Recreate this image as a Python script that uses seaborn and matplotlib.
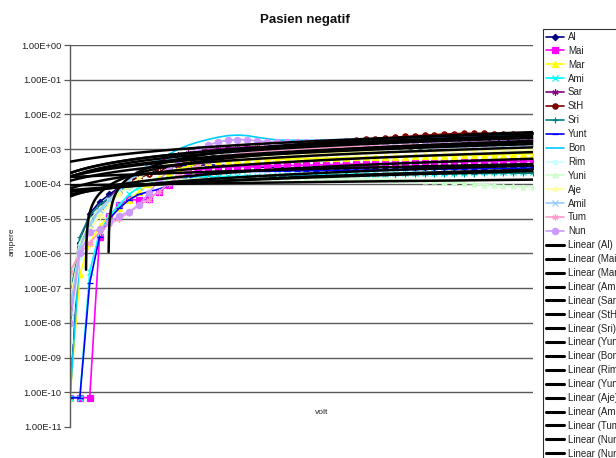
import numpy as np
import matplotlib
matplotlib.use("Agg")
import matplotlib.pyplot as plt
import seaborn as sns
from matplotlib.lines import Line2D
from matplotlib.ticker import FixedLocator, FuncFormatter, NullLocator

# measurement points along the voltage sweep
volt_index = np.arange(48)

patients = ["Al", "Mai", "Mar", "Ami", "Sar", "StH", "Sri", "Yunt",
            "Bon", "Rim", "Yuni", "Aje", "Amil", "Tum", "Nun"]

# current (ampere) per patient
al = [7e-11, 2e-6, 1.4e-5, 3e-5, 5e-5, 8e-5, 1.2e-4, 1.6e-4, 2.1e-4, 2.6e-4, 3.0e-4, 3.3e-4,
      3.4e-4, 3.5e-4, 3.5e-4, 3.5e-4, 3.4e-4, 3.3e-4, 3.2e-4, 3.1e-4, 3.0e-4, 3.0e-4, 2.9e-4, 2.9e-4,
      2.9e-4, 2.9e-4, 2.9e-4, 2.9e-4, 2.9e-4, 3.0e-4, 3.0e-4, 3.0e-4, 3.0e-4, 3.0e-4, 3.0e-4, 3.0e-4,
      3.0e-4, 3.1e-4, 3.1e-4, 3.1e-4, 3.1e-4, 3.1e-4, 3.1e-4, 3.2e-4, 3.2e-4, 3.2e-4, 3.2e-4, 3.2e-4]
mai = [7e-11, 7e-11, 7e-11, 3e-6, 1.2e-5, 2.5e-5, 3.6e-5, 3.4e-5, 3.6e-5, 6e-5, 9e-5, 1.4e-4,
       2.0e-4, 2.5e-4, 2.8e-4, 3.0e-4, 3.1e-4, 3.1e-4, 3.2e-4, 3.2e-4, 3.3e-4, 3.3e-4, 3.4e-4, 3.4e-4,
       3.5e-4, 3.5e-4, 3.6e-4, 3.6e-4, 3.7e-4, 3.7e-4, 3.8e-4, 3.8e-4, 3.9e-4, 3.9e-4, 4.0e-4, 4.0e-4,
       4.1e-4, 4.1e-4, 4.2e-4, 4.2e-4, 4.3e-4, 4.3e-4, 4.4e-4, 4.4e-4, 4.5e-4, 4.5e-4, 4.5e-4, 4.6e-4]
mar = [7e-11, 2.5e-7, 2e-6, 6e-6, 1.2e-5, 2e-5, 3.5e-5, 6e-5, 1e-4, 1.5e-4, 2.1e-4, 2.7e-4,
       3.2e-4, 3.8e-4, 4.2e-4, 4.5e-4, 4.7e-4, 4.8e-4, 4.9e-4, 5.0e-4, 5.1e-4, 5.1e-4, 5.2e-4, 5.3e-4,
       5.4e-4, 5.4e-4, 5.5e-4, 5.6e-4, 5.7e-4, 5.8e-4, 5.8e-4, 5.9e-4, 6.0e-4, 6.1e-4, 6.1e-4, 6.2e-4,
       6.3e-4, 6.4e-4, 6.5e-4, 6.5e-4, 6.6e-4, 6.7e-4, 6.8e-4, 6.9e-4, 7.0e-4, 7.1e-4, 7.2e-4, 7.3e-4]
ami = [7e-11, 7e-11, 3e-7, 4e-6, 1.2e-5, 2.5e-5, 5e-5, 8e-5, 1.1e-4, 1.3e-4, 1.4e-4, 1.5e-4,
       1.55e-4, 1.6e-4, 1.6e-4, 1.6e-4, 1.65e-4, 1.65e-4, 1.7e-4, 1.7e-4, 1.7e-4, 1.75e-4, 1.75e-4, 1.8e-4,
       1.8e-4, 1.8e-4, 1.85e-4, 1.85e-4, 1.9e-4, 1.9e-4, 1.9e-4, 1.95e-4, 1.95e-4, 2.0e-4, 2.0e-4, 2.0e-4,
       2.05e-4, 2.05e-4, 2.1e-4, 2.1e-4, 2.1e-4, 2.15e-4, 2.15e-4, 2.2e-4, 2.2e-4, 2.2e-4, 2.25e-4, 2.25e-4]
sar = [1.5e-8, 2e-6, 8e-6, 2e-5, 4e-5, 8e-5, 1.4e-4, 2.2e-4, 3.2e-4, 4.4e-4, 5.6e-4, 6.8e-4,
       7.8e-4, 8.8e-4, 9.6e-4, 1.02e-3, 1.07e-3, 1.11e-3, 1.15e-3, 1.18e-3, 1.21e-3, 1.24e-3, 1.27e-3, 1.3e-3,
       1.33e-3, 1.36e-3, 1.38e-3, 1.41e-3, 1.44e-3, 1.46e-3, 1.49e-3, 1.51e-3, 1.54e-3, 1.56e-3, 1.59e-3, 1.61e-3,
       1.64e-3, 1.66e-3, 1.68e-3, 1.71e-3, 1.73e-3, 1.75e-3, 1.77e-3, 1.79e-3, 1.81e-3, 1.83e-3, 1.85e-3, 1.87e-3]
sth = [1e-8, 1.5e-6, 8e-6, 2e-5, 3e-5, 6e-5, 1.2e-4, 1.5e-4, 1.9e-4, 2.4e-4, 3.0e-4, 3.7e-4,
       4.5e-4, 5.3e-4, 6.2e-4, 7.0e-4, 7.8e-4, 8.6e-4, 9.4e-4, 1.02e-3, 1.1e-3, 1.18e-3, 1.26e-3, 1.34e-3,
       1.42e-3, 1.5e-3, 1.58e-3, 1.66e-3, 1.75e-3, 1.84e-3, 1.93e-3, 2.02e-3, 2.12e-3, 2.22e-3, 2.32e-3, 2.42e-3,
       2.52e-3, 2.62e-3, 2.72e-3, 2.8e-3, 2.86e-3, 2.88e-3, 2.86e-3, 2.8e-3, 2.74e-3, 2.68e-3, 2.64e-3, 2.6e-3]
sri = [5e-8, 3e-6, 1.2e-5, 2.5e-5, 4e-5, 6e-5, 8e-5, 1e-4, 1.15e-4, 1.25e-4, 1.3e-4, 1.35e-4,
       1.4e-4, 1.42e-4, 1.45e-4, 1.47e-4, 1.5e-4, 1.52e-4, 1.55e-4, 1.57e-4, 1.6e-4, 1.62e-4, 1.64e-4, 1.66e-4,
       1.68e-4, 1.7e-4, 1.72e-4, 1.74e-4, 1.76e-4, 1.78e-4, 1.8e-4, 1.82e-4, 1.84e-4, 1.86e-4, 1.88e-4, 1.9e-4,
       1.92e-4, 1.93e-4, 1.95e-4, 1.96e-4, 1.98e-4, 1.99e-4, 2.0e-4, 2.01e-4, 2.02e-4, 2.03e-4, 2.04e-4, 2.05e-4]
yunt = [7e-11, 7e-11, 1.4e-7, 3e-6, 1e-5, 2e-5, 3.5e-5, 5e-5, 6e-5, 7e-5, 9e-5, 1.2e-4,
        1.5e-4, 1.8e-4, 2.0e-4, 2.1e-4, 2.2e-4, 2.2e-4, 2.3e-4, 2.3e-4, 2.3e-4, 2.35e-4, 2.35e-4, 2.4e-4,
        2.4e-4, 2.4e-4, 2.45e-4, 2.45e-4, 2.5e-4, 2.5e-4, 2.5e-4, 2.55e-4, 2.55e-4, 2.6e-4, 2.6e-4, 2.6e-4,
        2.65e-4, 2.65e-4, 2.7e-4, 2.7e-4, 2.7e-4, 2.75e-4, 2.75e-4, 2.8e-4, 2.8e-4, 2.8e-4, 2.85e-4, 2.85e-4]
bon = [7e-11, 1e-6, 6e-6, 1.5e-5, 3e-5, 6e-5, 1.2e-4, 2.2e-4, 3.5e-4, 5e-4, 7e-4, 1e-3,
       1.3e-3, 1.6e-3, 1.9e-3, 2.2e-3, 2.45e-3, 2.55e-3, 2.45e-3, 2.2e-3, 2.0e-3, 1.85e-3, 1.8e-3, 1.8e-3,
       1.8e-3, 1.82e-3, 1.85e-3, 1.88e-3, 1.9e-3, 1.93e-3, 1.96e-3, 2.0e-3, 2.03e-3, 2.06e-3, 2.1e-3, 2.13e-3,
       2.16e-3, 2.2e-3, 2.23e-3, 2.26e-3, 2.3e-3, 2.33e-3, 2.36e-3, 2.4e-3, 2.43e-3, 2.46e-3, 2.5e-3, 2.52e-3]
rim = [3e-9, 8e-7, 5e-6, 1.5e-5, 3.5e-5, 7e-5, 1.3e-4, 2.1e-4, 3.0e-4, 4e-4, 4.9e-4, 5.6e-4,
       6.2e-4, 6.7e-4, 7.1e-4, 7.4e-4, 7.7e-4, 7.9e-4, 8.1e-4, 8.3e-4, 8.5e-4, 8.7e-4, 8.9e-4, 9.0e-4,
       9.2e-4, 9.3e-4, 9.5e-4, 9.6e-4, 9.8e-4, 9.9e-4, 1e-3, 1.02e-3, 1.03e-3, 1.05e-3, 1.06e-3, 1.08e-3,
       1.09e-3, 1.1e-3, 1.12e-3, 1.13e-3, 1.15e-3, 1.16e-3, 1.18e-3, 1.19e-3, 1.21e-3, 1.22e-3, 1.24e-3, 1.25e-3]
yuni = [1.5e-7, 2e-6, 9e-6, 2e-5, 3.5e-5, 5.5e-5, 8e-5, 1e-4, 1.15e-4, 1.25e-4, 1.3e-4, 1.35e-4,
        1.38e-4, 1.4e-4, 1.4e-4, 1.42e-4, 1.42e-4, 1.43e-4, 1.43e-4, 1.44e-4, 1.44e-4, 1.45e-4, 1.45e-4, 1.45e-4,
        1.45e-4, 1.44e-4, 1.44e-4, 1.43e-4, 1.42e-4, 1.4e-4, 1.38e-4, 1.36e-4, 1.34e-4, 1.32e-4, 1.3e-4, 1.27e-4,
        1.24e-4, 1.2e-4, 1.15e-4, 1.1e-4, 1.05e-4, 1.0e-4, 9.6e-5, 9.2e-5, 8.9e-5, 8.6e-5, 8.4e-5, 8.2e-5]
aje = [5e-8, 1.2e-6, 5e-6, 1.2e-5, 2.5e-5, 5e-5, 9e-5, 1.5e-4, 2.2e-4, 3e-4, 3.7e-4, 4.2e-4,
       4.7e-4, 5.1e-4, 5.5e-4, 5.8e-4, 6.1e-4, 6.3e-4, 6.5e-4, 6.7e-4, 6.9e-4, 7e-4, 7.2e-4, 7.3e-4,
       7.4e-4, 7.6e-4, 7.7e-4, 7.8e-4, 7.9e-4, 8e-4, 8.2e-4, 8.3e-4, 8.4e-4, 8.5e-4, 8.6e-4, 8.7e-4,
       8.8e-4, 8.9e-4, 9e-4, 9.1e-4, 9.2e-4, 9.3e-4, 9.4e-4, 9.5e-4, 9.6e-4, 9.7e-4, 9.7e-4, 9.8e-4]
amil = [2e-8, 1.5e-6, 7e-6, 1.8e-5, 3.5e-5, 7e-5, 1.3e-4, 2.1e-4, 3.1e-4, 4.1e-4, 5e-4, 5.8e-4,
        6.5e-4, 7.1e-4, 7.6e-4, 8.1e-4, 8.5e-4, 8.8e-4, 9.1e-4, 9.4e-4, 9.6e-4, 9.8e-4, 1e-3, 1.02e-3,
        1.04e-3, 1.06e-3, 1.08e-3, 1.1e-3, 1.11e-3, 1.13e-3, 1.15e-3, 1.16e-3, 1.18e-3, 1.2e-3, 1.21e-3, 1.23e-3,
        1.24e-3, 1.26e-3, 1.27e-3, 1.29e-3, 1.3e-3, 1.32e-3, 1.33e-3, 1.35e-3, 1.36e-3, 1.37e-3, 1.39e-3, 1.4e-3]
tum = [3e-7, 1e-6, 2e-6, 4e-6, 7e-6, 1e-5, 1.5e-5, 2.4e-5, 3.5e-5, 6e-5, 1e-4, 1.7e-4,
       2.5e-4, 3.5e-4, 4.5e-4, 5.6e-4, 6.5e-4, 7.3e-4, 8e-4, 8.5e-4, 9e-4, 9.4e-4, 9.8e-4, 1.01e-3,
       1.04e-3, 1.07e-3, 1.1e-3, 1.12e-3, 1.15e-3, 1.17e-3, 1.2e-3, 1.22e-3, 1.24e-3, 1.26e-3, 1.28e-3, 1.3e-3,
       1.32e-3, 1.34e-3, 1.36e-3, 1.38e-3, 1.4e-3, 1.42e-3, 1.44e-3, 1.46e-3, 1.48e-3, 1.5e-3, 1.51e-3, 1.52e-3]
nun = [1e-8, 1e-6, 4e-6, 5e-6, 8e-6, 1.2e-5, 1.6e-5, 2.5e-5, 5.5e-5, 1.2e-4, 2.5e-4, 4.5e-4,
       7e-4, 1e-3, 1.3e-3, 1.6e-3, 1.8e-3, 1.9e-3, 1.85e-3, 1.75e-3, 1.65e-3, 1.6e-3, 1.58e-3, 1.58e-3,
       1.6e-3, 1.62e-3, 1.64e-3, 1.66e-3, 1.68e-3, 1.7e-3, 1.72e-3, 1.74e-3, 1.76e-3, 1.78e-3, 1.8e-3, 1.82e-3,
       1.84e-3, 1.86e-3, 1.88e-3, 1.9e-3, 1.92e-3, 1.94e-3, 1.96e-3, 1.98e-3, 2e-3, 2.02e-3, 2.04e-3, 2.05e-3]

series = [al, mai, mar, ami, sar, sth, sri, yunt, bon, rim, yuni, aje, amil, tum, nun]

colors = ["#000080", "#FF00FF", "#FFFF00", "#00FFFF", "#800080", "#800000", "#008080", "#0000FF",
          "#00CCFF", "#CCFFFF", "#CCFFCC", "#FFFF99", "#99CCFF", "#FF99CC", "#CC99FF"]
asterisk = (6, 2, 0)
markers = ["D", "s", "^", "x", asterisk, "o", "+", "_",
           None, "s", "^", asterisk, "x", asterisk, "o"]
marker_sizes = [3.2, 4.0, 4.0, 4.0, 4.5, 3.8, 4.5, 4.0, 0, 3.0, 3.5, 4.5, 4.0, 4.5, 4.5]

# trendlines: one per patient, the last one listed twice
trend_names = patients + ["Nun"]
trend_series = series + [nun]

sns.set_theme(style="white")
plt.rcParams["font.family"] = ["Liberation Sans", "DejaVu Sans"]

W, H = 616, 458
fig = plt.figure(figsize=(W / 100, H / 100), dpi=100)
ax = fig.add_axes([70 / W, 1 - 427 / H, (533 - 70) / W, (427 - 45) / H])
ax.set_yscale("log")

grid_color = "#5a5a5a"
for e in range(-10, 1):
    ax.axhline(10.0 ** e, color=grid_color, lw=1.0, zorder=0)

for vals, c, m, ms in zip(series, colors, markers, marker_sizes):
    kw = dict(color=c, linewidth=1.2, ax=ax, errorbar=None, legend=False, zorder=2)
    if m is not None:
        kw.update(marker=m, markersize=ms, markeredgecolor=c, markerfacecolor=c,
                  markeredgewidth=0.9)
    sns.lineplot(x=volt_index, y=np.asarray(vals), **kw)

grid_x = np.linspace(volt_index[0], volt_index[-1], 2400)
for vals in trend_series:
    slope, intercept = np.polyfit(volt_index, np.asarray(vals), 1)
    fit = intercept + slope * grid_x
    keep = fit > 0
    sns.lineplot(x=grid_x[keep], y=fit[keep], color="black", linewidth=1.8,
                 ax=ax, errorbar=None, legend=False, zorder=3)

ax.set_xlim(volt_index[0], volt_index[-1])
ax.set_ylim(1e-11, 1)
ax.set_xticks([])
ax.yaxis.set_major_locator(FixedLocator(10.0 ** np.arange(-11, 1)))
ax.yaxis.set_minor_locator(NullLocator())
ax.yaxis.set_major_formatter(FuncFormatter(lambda v, _: f"{v:.2E}"))
ax.tick_params(axis="y", left=True, direction="out", length=4, width=0.9,
               color=grid_color, labelsize=6.7, pad=2, labelcolor="#222222")
for side in ["top", "right", "bottom"]:
    ax.spines[side].set_visible(False)
ax.spines["left"].set_color(grid_color)
ax.spines["left"].set_linewidth(1.0)
ax.set_xlabel("")
ax.set_ylabel("")

fig.text(305 / W, 1 - 20 / H, "Pasien negatif", ha="center", va="center",
         fontsize=9.5, fontweight="bold", color="#111111")
fig.text(12 / W, 1 - 242 / H, "ampere", rotation=90, ha="center", va="center",
         fontsize=6, color="#222222")
fig.text(322 / W, 1 - 412 / H, "volt", ha="center", va="center",
         fontsize=6, color="#222222")

handles = []
labels = []
for name, c, m, ms in zip(patients, colors, markers, marker_sizes):
    handles.append(Line2D([], [], color=c, lw=1.2, marker=m if m is not None else "",
                          markersize=ms, markeredgecolor=c, markerfacecolor=c,
                          markeredgewidth=0.9))
    labels.append(name)
for name in trend_names:
    handles.append(Line2D([], [], color="black", lw=2.2))
    labels.append(f"Linear ({name})")

leg = ax.legend(handles, labels, loc="upper left",
                bbox_to_anchor=(543 / W, 1 - 29 / H), bbox_transform=fig.transFigure,
                frameon=True, fancybox=False, edgecolor="black", fontsize=7,
                handlelength=1.9, handletextpad=0.35, labelspacing=0.40,
                borderpad=0.3, borderaxespad=0)
leg.get_frame().set_linewidth(0.8)
for t in leg.get_texts():
    t.set_color("#222222")

fig.savefig("out.png", dpi=100)
